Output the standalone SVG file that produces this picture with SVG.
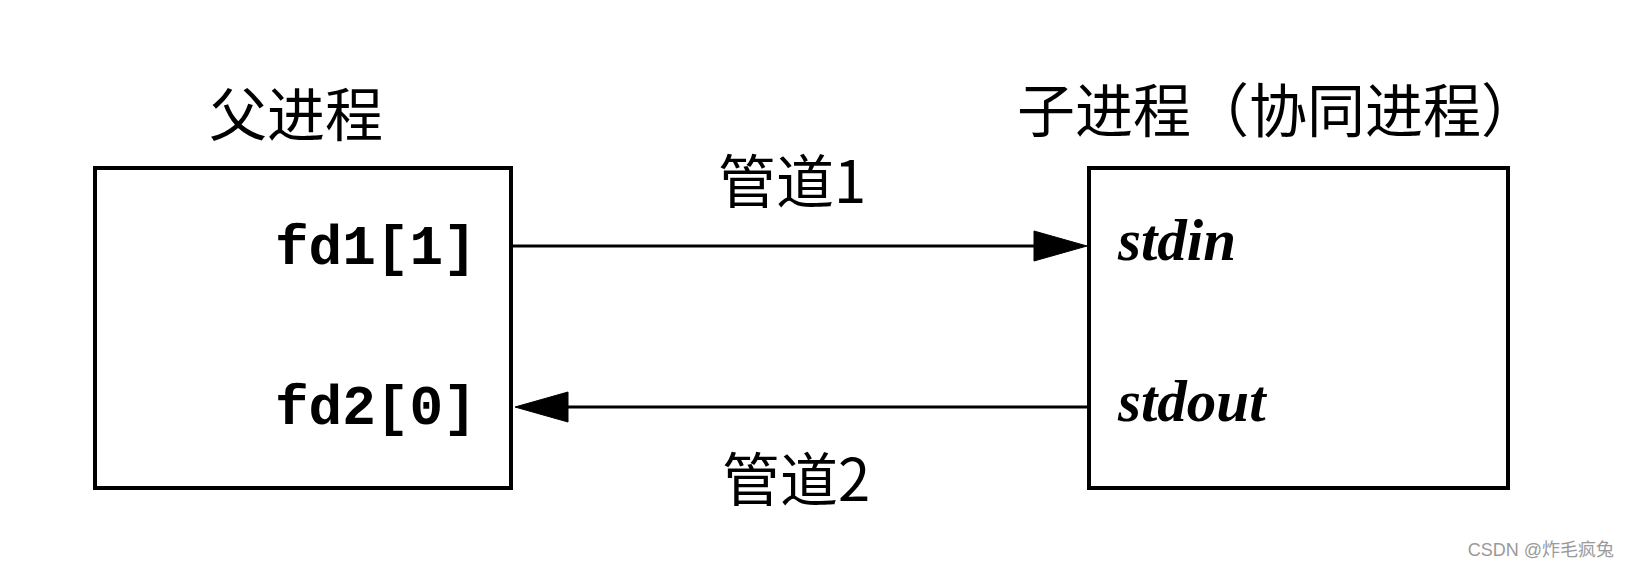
<svg xmlns="http://www.w3.org/2000/svg" width="1630" height="568" viewBox="0 0 1630 568">
  <style>
    .box { fill: #ffffff; stroke: #000000; stroke-width: 4; }
    .conn { stroke: #000000; stroke-width: 3; fill: none; }
    .head { fill: #000000; stroke: #000000; stroke-width: 1; }
    .cjk { font-family: "Noto Sans CJK SC", "Noto Sans", sans-serif; font-size: 58px; fill: #000000; }
    .mono { font-family: "Liberation Mono", "DejaVu Sans Mono", monospace; font-weight: bold; font-size: 56px; fill: #000000; }
    .ital { font-family: "Liberation Serif", "DejaVu Serif", serif; font-weight: bold; font-style: italic; font-size: 59px; fill: #000000; }
    .wm { font-family: "Liberation Sans", "Noto Sans CJK SC", sans-serif; font-size: 18px; fill: #9a9a9a; }
  </style>
  <rect x="0" y="0" width="1630" height="568" fill="#ffffff"/>

  <g id="parent">
    <text class="cjk" x="209" y="136">父进程</text>
    <rect class="box" x="95" y="168" width="416" height="320"/>
    <text class="mono" x="275" y="264">fd1[1]</text>
    <text class="mono" x="275" y="424">fd2[0]</text>
  </g>

  <g id="child">
    <text class="cjk" x="1017" y="132">子进程（协同进程）</text>
    <rect class="box" x="1089" y="168" width="419" height="320"/>
    <text class="ital" x="1118" y="260">stdin</text>
    <text class="ital" x="1118" y="421">stdout</text>
  </g>

  <g id="connectors">
    <line class="conn" x1="513" y1="246" x2="1040" y2="246"/>
    <polygon class="head" points="1034,231 1087,246 1034,261"/>
    <text class="cjk" x="718" y="203">管道1</text>
    <line class="conn" x1="562" y1="407" x2="1089" y2="407"/>
    <polygon class="head" points="568,392 515,407 568,422"/>
    <text class="cjk" x="722" y="501">管道2</text>
  </g>

  <text class="wm" x="1614" y="556" text-anchor="end">CSDN @炸毛疯兔</text>
</svg>
